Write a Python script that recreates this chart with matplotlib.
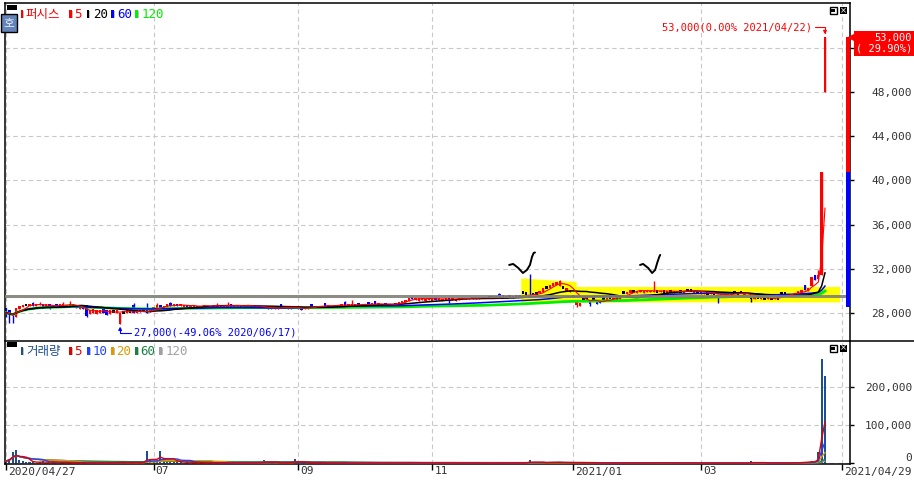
import numpy as np
import pandas as pd
import matplotlib
matplotlib.use('Agg')
import matplotlib.pyplot as plt
from matplotlib.patches import Rectangle, Polygon
from matplotlib import transforms
from matplotlib import font_manager as fm

# ---- data ---------------------------------------------------------------
holidays = ['2020-04-30', '2020-05-01', '2020-05-05', '2020-08-17', '2020-09-30',
            '2020-10-01', '2020-10-02', '2020-10-09', '2020-12-25', '2020-12-31',
            '2021-01-01', '2021-02-11', '2021-02-12', '2021-03-01']
days = pd.bdate_range('2020-04-27', '2021-04-29')
days = days[~days.isin(pd.to_datetime(holidays))]

opens = [
    28400, 28200, 28000, 27600, 28300, 28500, 28700, 28600, 28900, 28600,
    28700, 28800, 28550, 28800, 28500, 28750, 28550, 28650, 28600, 28500,
    28500, 28600, 28300, 28500, 28700, 27900, 28000, 27900, 27950, 28300,
    28200, 27900, 28100, 28000, 27000, 28000, 28000, 28100, 28700, 28000,
    28300, 28150, 28200, 28100, 28200, 28400, 28700, 28400, 28500, 28900,
    28600, 28800, 28600, 28500, 28700, 28500, 28550, 28650, 28450, 28500,
    28550, 28650, 28450, 28450, 28600, 28500, 28450, 28800, 28500, 28450,
    28600, 28500, 28450, 28600, 28700, 28450, 28400, 28600, 28500, 28350,
    28300, 28500, 28750, 28400, 28350, 28300, 28600, 28350, 28450, 28300,
    28350, 28800, 28450, 28500, 28500, 28850, 28550, 28500, 28550, 28600,
    28600, 28950, 28600, 28650, 28600, 28850, 28650, 28700, 28950, 28700,
    29050, 28700, 28650, 28850, 28650, 28800, 28700, 28800, 28900, 29000,
    29050, 29450, 29150, 29100, 29150, 29100, 29150, 29100, 29300, 29150,
    29100, 29150, 29350, 29150, 29100, 29150, 29200, 29350, 29200, 29250,
    29400, 29250, 29300, 29450, 29400, 29500, 29400, 29650, 29450, 29500,
    29450, 29500, 29450, 29500, 29800, 29750, 29600, 29700, 29750, 29800,
    29900, 30300, 30200, 30400, 30500, 30400, 30300, 30000, 29900, 29500,
    28700, 28600, 29300, 29400, 29000, 29300, 29000, 29000, 29300, 29100,
    29350, 29150, 29300, 29200, 29800, 29700, 29750, 29950, 29800, 29850,
    29800, 29850, 29850, 29850, 29950, 29850, 29950, 29800, 29900, 29800,
    29850, 29900, 29800, 30000, 30000, 29800, 29850, 29700, 29700, 29750,
    29650, 29700, 29600, 29550, 29500, 29550, 29500, 29800, 29750, 29800,
    29500, 29450, 29400, 29250, 29350, 29200, 29300, 29200, 29250, 29200,
    29300, 29750, 29750, 29500, 29550, 29600, 29800, 29850, 30500, 29950,
    30450, 31400, 31050, 31400, 48000,
]
closes = [
    28000, 27800, 27700, 28400, 28600, 28700, 28700, 28800, 28600, 28800,
    28800, 28550, 28750, 28500, 28700, 28550, 28750, 28800, 28700, 28750,
    28700, 28400, 28500, 28300, 27700, 28200, 28300, 28200, 28200, 28000,
    27800, 28200, 28100, 28200, 27950, 28000, 28200, 28100, 28000, 28200,
    28100, 28150, 28000, 28300, 28500, 28700, 28400, 28600, 28800, 28600,
    28800, 28600, 28750, 28700, 28500, 28650, 28700, 28450, 28650, 28700,
    28650, 28500, 28650, 28650, 28600, 28650, 28700, 28550, 28650, 28700,
    28600, 28650, 28700, 28600, 28500, 28600, 28600, 28400, 28300, 28500,
    28500, 28350, 28450, 28550, 28500, 28450, 28400, 28500, 28250, 28450,
    28500, 28500, 28650, 28650, 28600, 28550, 28700, 28650, 28700, 28700,
    28750, 28600, 28750, 28750, 28750, 28650, 28800, 28800, 28700, 28850,
    28750, 28850, 28800, 28700, 28800, 28650, 28850, 28950, 29100, 29150,
    29300, 29200, 29300, 29300, 29300, 29250, 29300, 29250, 29150, 29300,
    29250, 29300, 29100, 29300, 29250, 29300, 29350, 29200, 29350, 29400,
    29250, 29400, 29400, 29300, 29400, 29300, 29400, 29350, 29450, 29350,
    29450, 29350, 29450, 29500, 29800, 29750, 29400, 29700, 29750, 29950,
    30200, 30300, 30500, 30700, 30800, 30850, 30300, 30200, 30100, 29500,
    29000, 28900, 29300, 29400, 28800, 29300, 28800, 28850, 29300, 29300,
    29350, 29300, 29300, 29400, 29800, 29900, 30050, 29950, 30000, 30050,
    29950, 30000, 29950, 30000, 29950, 30000, 29950, 29950, 29900, 29950,
    29950, 29900, 29950, 30000, 30000, 29950, 29850, 29850, 29800, 29750,
    29800, 29700, 29400, 29700, 29650, 29650, 29650, 29800, 29750, 29800,
    29650, 29600, 29400, 29450, 29350, 29350, 29300, 29350, 29250, 29300,
    29300, 29750, 29750, 29700, 29650, 29750, 30000, 30050, 30050, 30200,
    31250, 31000, 31400, 40800, 53000,
]
wick_high = {8: 29000, 10: 29000, 17: 29000, 19: 29050, 38: 28850, 42: 28850,
             45: 28900, 49: 29000, 63: 28900, 66: 28950, 86: 28650, 101: 29100,
             103: 29150, 147: 29800, 156: 31480, 165: 30950, 193: 30900, 242: 31900}
wick_low = {0: 27600, 1: 27050, 2: 27050, 13: 28300, 24: 27600, 132: 28900,
            170: 28500, 174: 28600, 212: 28900, 222: 28950}

volumes = [
    6000, 11000, 30000, 34000, 8000, 5000, 3000, 4000, 2500, 2000,
    3000, 5000, 2000, 1500, 6000, 2500, 1800, 1200, 2000, 1500,
    1000, 1200, 800, 1500, 1400, 1000, 2000, 1100, 900, 1300,
    3000, 1500, 1000, 4000, 2500, 1500, 1200, 800, 3500, 1200,
    2000, 3500, 32000, 9000, 4000, 3000, 32000, 15000, 6000, 4000,
    3000, 5000, 2500, 2000, 3000, 1500, 1200, 2500, 1000, 1500,
    1200, 900, 1000, 800, 1500, 1000, 800, 700, 1200, 900,
    1000, 800, 1200, 900, 1500, 1000, 2500, 8000, 3000, 1200,
    1000, 1500, 900, 800, 2000, 3000, 10000, 2500, 1500, 1000,
    1200, 900, 800, 1500, 700, 1000, 800, 900, 1200, 600,
    800, 1000, 700, 600, 900, 800, 1200, 700, 600, 800,
    900, 700, 800, 600, 1000, 700, 800, 1200, 1500, 1000,
    1800, 1200, 900, 800, 700, 900, 600, 800, 700, 900,
    600, 800, 700, 900, 600, 800, 700, 600, 800, 700,
    900, 600, 700, 800, 500, 700, 600, 1500, 700, 600,
    800, 600, 700, 800, 2500, 1500, 8000, 2000, 1200, 1500,
    2000, 1800, 2500, 3000, 2200, 2800, 1500, 1200, 1000, 1500,
    2500, 2000, 1000, 800, 1500, 900, 1200, 1000, 800, 900,
    700, 800, 600, 900, 1200, 1000, 1500, 900, 800, 1000,
    800, 700, 900, 2500, 800, 700, 600, 800, 700, 600,
    700, 600, 800, 900, 700, 600, 500, 700, 600, 500,
    600, 500, 1200, 700, 600, 500, 600, 800, 700, 600,
    700, 800, 6000, 900, 700, 600, 800, 700, 600, 700,
    600, 900, 800, 1200, 1000, 1500, 2500, 3000, 4000, 3000,
    6000, 5000, 30000, 271000, 227000,
]

stock_name = '퍼시스'
price_ticks = [28000, 32000, 36000, 40000, 44000, 48000, 52000]
hidden_ticks = [52000]  # covered by the current-price box
vol_ticks = [0, 100000, 200000]
tick_dates = ['2020-04-27', '2020-07-01', '2020-09-01', '2020-11-02', '2021-01-04', '2021-03-02', '2021-04-29']
tick_labels = ['2020/04/27', '07', '09', '11', '2021/01', '03', '2021/04/29']
price_ma = [(5, '#ff0000', 0.8), (20, '#000000', 1.1), (60, '#0000ff', 1.1), (120, '#00ee00', 2.0)]
vol_ma = [(5, '#e00000'), (10, '#2040ff'), (20, '#e09a00'), (60, '#188040'), (120, '#a0a0a0')]

last_close, prev_close, band_low = 53000, 40800, 28500
change_pct = 29.90
low_price, low_date, low_pct = 27000, '2020/06/17', -49.06
ref_line = 29540

# hand-drawn marks on the original chart (day index, price)
highlight = [(153.5, 31100), (170, 30780), (170, 30330), (248.5, 30330), (248.5, 28930), (153.5, 28930)]
check1 = [(149.9, 32330), (151.1, 32420), (152.6, 32060), (154.0, 31600), (155.2, 31880),
          (156.1, 32330), (156.7, 33050), (157.2, 33420), (157.6, 33460)]
check2 = [(188.9, 32330), (189.8, 32420), (191.3, 32060), (192.5, 31600), (193.4, 31880),
          (194.0, 32510), (194.6, 33050), (194.9, 33240)]


# ---- fonts --------------------------------------------------------------
def pick_font(*names):
    for n in names:
        try:
            fm.findfont(n, fallback_to_default=False)
            return n
        except ValueError:
            pass
    return 'DejaVu Sans'


NUM = pick_font('Liberation Sans Narrow', 'DejaVu Sans Mono')
KR = ['Noto Sans CJK KR', 'DejaVu Sans']
NUM_SIZE = 9 if NUM == 'Liberation Sans Narrow' else 7.5
TICK_SIZE = 9 if NUM == 'Liberation Sans Narrow' else 8
TXT = '#333333'

W, H = 914, 480
fig = plt.figure(figsize=(W / 100, H / 100), dpi=100)
fig.patch.set_facecolor('white')


def frac_box(x0, y0, x1, y1):
    return [x0 / W, 1 - y1 / H, (x1 - x0) / W, (y1 - y0) / H]


def add_rect(x0, y0, x1, y1, **kw):
    fig.add_artist(Rectangle((x0 / W, 1 - y1 / H), (x1 - x0) / W, (y1 - y0) / H,
                             transform=fig.transFigure, **kw))


def add_text(x, y, s, **kw):
    fig.text(x / W, 1 - y / H, s, **kw)


ax = fig.add_axes(frac_box(5, 3, 849.5, 340))
ax2 = fig.add_axes(frac_box(5, 341, 849.5, 464), sharex=ax)

n = len(closes)
x = np.arange(n)
o = np.array(opens, dtype=float)
c = np.array(closes, dtype=float)
hi = np.maximum(o, c)
lo = np.minimum(o, c)
for i, v in wick_high.items():
    hi[i] = v
for i, v in wick_low.items():
    lo[i] = v
cols = np.where(c > o, '#ff0000', np.where(c < o, '#0000ff', '#000000'))
doji = c == o
body_lo = np.where(doji, o - 125, np.minimum(o, c))
body_h = np.where(doji, 250, np.maximum(np.abs(c - o), 100))

grid_kw = dict(color='#c8c8c8', lw=0.8, ls=(0, (4, 3)))
tick_pos = [days.get_loc(pd.Timestamp(d)) for d in tick_dates]

# ---- price panel --------------------------------------------------------
ax.set_xlim(-0.3, 251.3)
ax.set_ylim(25520, 56100)
for p in price_ticks:
    ax.axhline(p, zorder=0.5, **grid_kw)
for t in tick_pos:
    ax.axvline(t, zorder=0.5, **grid_kw)

ax.add_patch(Polygon(highlight, closed=True, fc='#ffff00', ec='none', zorder=1))
ax.vlines(x, lo, hi, colors=cols, lw=1, zorder=2)
ax.bar(x, body_h, bottom=body_lo, width=0.72, color=cols, lw=0, zorder=2)

cs = pd.Series(c)
for w, col, lw in price_ma[::-1]:
    ax.plot(x, cs.rolling(w, min_periods=1).mean(), color=col, lw=lw, zorder=3)
ax.axhline(ref_line, color='#808078', lw=2.2, alpha=0.9, zorder=3.5)

for pts in (check1, check2):
    xs, ys = zip(*pts)
    ax.plot(xs, ys, color='black', lw=1.4, zorder=4, solid_capstyle='round')

blend = transforms.blended_transform_factory(ax.transAxes, ax.transData)
ax.add_patch(Rectangle((0.9958, prev_close), 0.0042, last_close - prev_close, transform=blend,
                       fc='#ff0000', ec='none', zorder=5, clip_on=False))
ax.add_patch(Rectangle((0.9958, band_low), 0.0042, prev_close - band_low, transform=blend,
                       fc='#0000ff', ec='none', zorder=5, clip_on=False))
ax.plot([1.0045], [last_close], marker='<', ms=7, color='#ff0000', transform=blend,
        clip_on=False, zorder=6)
ax.annotate(f'{last_close:,}\n( {change_pct:.2f}%)', xy=(1.074, last_close), xycoords=blend,
            xytext=(0, -4.5), textcoords='offset points', ha='right', va='center',
            multialignment='right', color='white', fontsize=NUM_SIZE, family=NUM,
            linespacing=1.05, annotation_clip=False, zorder=6,
            bbox=dict(boxstyle='square,pad=0.2', fc='#ff0000', ec='none'))

last = n - 1
ax.annotate(f'{last_close:,}(0.00% {days[last]:%Y/%m/%d})', xy=(last, last_close),
            xytext=(-9.5, 7), textcoords='offset points', ha='right', va='center',
            color='#ff0000', fontsize=NUM_SIZE, family=NUM, zorder=6,
            arrowprops=dict(arrowstyle='-|>', color='#ff0000', lw=0.8, mutation_scale=5,
                            shrinkA=0, shrinkB=2,
                            connectionstyle='angle,angleA=0,angleB=90,rad=0'))
low_idx = days.get_loc(pd.Timestamp(low_date.replace('/', '-')))
ax.annotate(f'{low_price:,}({low_pct:.2f}% {low_date})', xy=(low_idx, low_price),
            xytext=(10, -6.7), textcoords='offset points', ha='left', va='center',
            color='#0000ff', fontsize=NUM_SIZE, family=NUM, zorder=6,
            arrowprops=dict(arrowstyle='-|>', color='#0000ff', lw=0.8, mutation_scale=5,
                            shrinkA=0, shrinkB=2,
                            connectionstyle='angle,angleA=0,angleB=90,rad=0'))

ax.yaxis.tick_right()
ax.set_yticks(price_ticks)
ax.set_yticklabels(['' if p in hidden_ticks else f'{p:,}' for p in price_ticks])
ax.tick_params(axis='y', direction='out', length=3, width=1, color='black', pad=42,
               labelsize=TICK_SIZE, labelcolor=TXT)
for lbl in ax.get_yticklabels():
    lbl.set_ha('right')
    lbl.set_family(NUM)
ax.tick_params(axis='x', bottom=False, labelbottom=False)
for s in ('top', 'left', 'right'):
    ax.spines[s].set_linewidth(1.1)
ax.spines['bottom'].set_visible(False)

# ---- volume panel -------------------------------------------------------
ax2.set_ylim(-1800, 318500)
for v in vol_ticks:
    ax2.axhline(v, zorder=0.5, **grid_kw)
for t in tick_pos:
    ax2.axvline(t, zorder=0.5, **grid_kw)
ax2.bar(x, volumes, width=0.6, color='#1c4f8f', lw=0, zorder=2)
vs = pd.Series(volumes, dtype=float)
for w, col in vol_ma[::-1]:
    ax2.plot(x, vs.rolling(w, min_periods=1).mean(), color=col, lw=1.0, zorder=3)

ax2.yaxis.tick_right()
ax2.set_yticks(vol_ticks)
ax2.set_yticklabels([f'{v:,}' for v in vol_ticks])
ax2.tick_params(axis='y', direction='out', length=3, width=1, color='black', pad=42,
                labelsize=TICK_SIZE, labelcolor=TXT)
for lbl in ax2.get_yticklabels():
    lbl.set_ha('right')
    lbl.set_family(NUM)
ax2.get_yticklabels()[0].set_va('bottom')

ax2.set_xticks(tick_pos)
ax2.set_xticklabels(tick_labels)
ax2.tick_params(axis='x', direction='out', length=4.3, width=1, color='black', pad=-2.5,
                labelsize=TICK_SIZE, labelcolor=TXT)
shift = transforms.ScaledTranslation(2 / 100, 0, fig.dpi_scale_trans)
for lbl in ax2.get_xticklabels():
    lbl.set_ha('left')
    lbl.set_family(NUM)
    lbl.set_transform(lbl.get_transform() + shift)
for s in ax2.spines.values():
    s.set_linewidth(1.1)
fig.add_artist(plt.Line2D([849.5 / W, 1], [1 - 341 / H] * 2, color='black', lw=1.1,
                          transform=fig.transFigure))

# ---- legends and window icons ------------------------------------------
legend_price = [(stock_name, '#ff0000', 20.7, 25), ('5', '#ff0000', 69, 74),
                ('20', '#000000', 86.7, 93), ('60', '#0000ff', 111, 117),
                ('120', '#00ee00', 135, 141.5)]
legend_vol = [('거래량', '#1f4e8c', 20.7, 26), ('5', '#e00000', 69, 74),
              ('10', '#2040ff', 87.3, 92.5), ('20', '#e09a00', 111, 116.5),
              ('60', '#188040', 135, 140), ('120', '#a0a0a0', 159.3, 165.5)]

for items, yc in ((legend_price, 14), (legend_vol, 351)):
    add_rect(6.7, yc - 9, 16.7, yc - 4, fc='black')
    for label, col, mx, tx in items:
        add_rect(mx, yc - 4, mx + 2.6, yc + 4, fc=col, ec='none')
        add_rect(mx + 2.6, yc - 3, mx + 3.6, yc + 4, fc='#c0c0c0', ec='none')
        fam = KR if not label.isdigit() else [NUM]
        add_text(tx, yc + 0.5, label, color=col, ha='left', va='center',
                 fontsize=9, family=fam)

for y0 in (7, 344.5):
    add_rect(829.5, y0, 836.5, y0 + 7, fc='white', ec='black', lw=1)
    add_rect(831, y0 + 2, 835, y0 + 5, fc='black', ec='none')
    add_rect(839.5, y0, 846.5, y0 + 7, fc='black', ec='none')
    add_text(843, y0 + 3.7, '×', color='white', fontsize=6, ha='center', va='center')

add_rect(0.5, 14, 16.5, 31.5, fc='#6483b8', ec='black', lw=1)
add_text(8.5, 22.8, '호', color='#e8eef8', fontsize=8.5, family=KR, ha='center', va='center')

fig.savefig('out.png', dpi=100)
